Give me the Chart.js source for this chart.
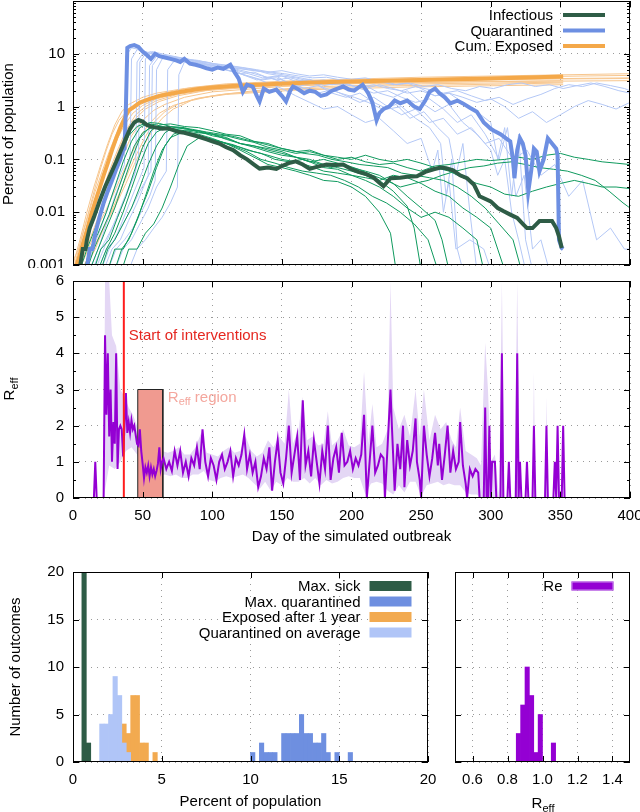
<!DOCTYPE html>
<html>
<head>
<meta charset="utf-8">
<script src="https://cdn.jsdelivr.net/npm/chart.js@4/dist/chart.umd.min.js"></script>
<style>
body { margin: 0; background: #fff; }
#fig { position: relative; width: 640px; height: 812px; font-family: 'Liberation Sans', Arial, sans-serif; font-size: 15px; color: #000; }
canvas { position: absolute; }
.lab { position: absolute; white-space: nowrap; line-height: 20px; transform: translate(-50%, -50%); }
.rot { transform: translate(-50%, -50%) rotate(-90deg); }
.lab sub { font-size: 11px; vertical-align: -4px; line-height: 0; }
</style>
</head>
<body>
<div id="fig">
  <canvas id="top" width="640" height="268" style="left:0;top:0"></canvas>
  <canvas id="reff" width="640" height="280" style="left:0;top:270px"></canvas>
  <canvas id="hist" width="440" height="262" style="left:0;top:550px"></canvas>
  <canvas id="rehist" width="200" height="262" style="left:440px;top:550px"></canvas>
  <div class="lab rot" style="left:8px;top:134px">Percent of population</div>
  <div class="lab rot" style="left:9px;top:389px">R<sub>eff</sub></div>
  <div class="lab rot" style="left:15px;top:667px">Number of outcomes</div>
  <div class="lab" style="left:543px;top:803px">R<sub>eff</sub></div>
</div>
<script>
// ---- axis ticks / names ----
const dayTicks = [0, 50, 100, 150, 200, 250, 300, 350, 400];
const topYTicks = [0.001, 0.01, 0.1, 1, 10, 100];
const reffYTicks = [0, 1, 2, 3, 4, 5, 6];
const reffYMinor = [0.5, 1.5, 2.5, 3.5, 4.5, 5.5];
const histXTicks = [0, 5, 10, 15, 20];
const histYTicks = [0, 5, 10, 15, 20];
const reXTicks = [0.6, 0.8, 1, 1.2, 1.4];
const topNames = ['Infectious', 'Quarantined', 'Cum. Exposed'];
const histNames = ['Max. sick', 'Max. quarantined', 'Exposed after 1 year', 'Quarantined on average'];
const reName = 'Re';
const dayTitle = 'Day of the simulated outbreak';
const pctTitle = 'Percent of population';

// ---- top panel: highlighted runs [day, percent] ----
const infectiousMain = [[5,0.0009],[7,0.002],[9,0.002],[10,0.003],[12,0.005],[15,0.008],[19,0.016],[23,0.03],[27,0.052],[31,0.09],[34,0.14],[38,0.25],[41,0.38],[44,0.5],[47,0.56],[50,0.52],[53,0.45],[56,0.42],[60,0.4],[64,0.38],[68,0.39],[72,0.36],[76,0.33],[80,0.32],[84,0.3],[88,0.28],[92,0.26],[96,0.24],[100,0.22],[105,0.2],[110,0.17],[115,0.15],[120,0.12],[125,0.1],[130,0.08],[134,0.067],[140,0.07],[146,0.066],[150,0.075],[155,0.085],[160,0.092],[165,0.08],[170,0.066],[175,0.072],[182,0.08],[188,0.078],[194,0.08],[200,0.065],[205,0.058],[211,0.052],[216,0.045],[220,0.036],[223,0.031],[228,0.044],[235,0.045],[240,0.047],[247,0.048],[253,0.058],[259,0.065],[264,0.07],[268,0.068],[273,0.062],[278,0.05],[283,0.044],[288,0.033],[292,0.02],[300,0.016],[305,0.012],[309,0.0105],[314,0.009],[319,0.0078],[323,0.006],[326,0.005],[330,0.005],[335,0.0068],[340,0.0068],[344,0.0068],[347,0.005],[349,0.0035],[351,0.0021]];
const quarantinedMain = [[10,0.0009],[12,0.002],[14,0.002],[16,0.004],[19,0.008],[22,0.015],[25,0.025],[28,0.04],[31,0.065],[34,0.1],[36,0.15],[37,0.16],[38,1],[39,13],[41,14],[44,14.6],[47,13.5],[50,11],[53,9.5],[56,8],[59,10],[62,9],[66,8.5],[70,8],[74,7.5],[77,7],[80,8],[84,6.5],[88,6.2],[92,5.8],[96,5.3],[100,5],[104,5.5],[108,5.2],[113,6.2],[116,4.5],[119,3.4],[122,1.9],[125,2.6],[129,2.4],[132,1.6],[134,1.25],[137,2.2],[141,1.9],[146,2.1],[150,1.6],[153,1.25],[156,2.0],[158,2.4],[162,2.1],[166,1.8],[170,2.0],[174,1.9],[178,1.6],[182,1.7],[186,2.0],[190,2.2],[194,2.4],[198,2.1],[202,2.0],[206,2.4],[208,2.6],[212,1.8],[215,1.2],[218,0.55],[220,0.75],[223,0.9],[227,1.0],[231,1.3],[235,1.15],[240,1.3],[245,1.0],[249,0.9],[253,1.3],[256,1.9],[260,2.2],[263,1.8],[267,1.5],[271,1.15],[276,1.3],[280,1.15],[285,0.95],[290,0.8],[295,0.5],[300,0.38],[303,0.34],[307,0.3],[311,0.25],[314,0.22],[316,0.1],[317,0.044],[319,0.15],[321,0.25],[323,0.2],[325,0.12],[327,0.025],[329,0.06],[331,0.16],[333,0.14],[335,0.06],[338,0.1],[341,0.25],[344,0.2],[347,0.16],[348,0.12],[349,0.003],[351,0.0021],[352,0.002]];
const exposedMain = [[2,0.0009],[4,0.0013],[6,0.002],[8,0.003],[10,0.0045],[13,0.009],[16,0.016],[19,0.028],[22,0.05],[25,0.085],[28,0.15],[31,0.25],[34,0.4],[37,0.6],[40,0.85],[44,1.0],[48,1.2],[55,1.4],[62,1.6],[70,1.75],[80,1.95],[90,2.15],[100,2.3],[120,2.5],[140,2.65],[170,2.85],[200,3.0],[250,3.2],[300,3.4],[352,3.7]];

// ---- top panel: other runs ----
const exposedRuns = [
  [[0,0.001],[5,0.003],[10,0.01],[15,0.03],[20,0.08],[25,0.2],[30,0.45],[35,0.8],[40,1.1],[50,1.5],[60,1.8],[80,2.2],[100,2.5],[150,2.9],[200,3.2],[300,3.6],[400,3.9]],
  [[3,0.001],[8,0.002],[14,0.006],[20,0.02],[26,0.06],[32,0.15],[38,0.35],[45,0.7],[52,1.0],[60,1.3],[75,1.7],[100,2.1],[150,2.6],[200,2.9],[300,3.3],[400,3.5]],
  [[5,0.001],[12,0.003],[18,0.008],[24,0.02],[30,0.05],[36,0.12],[42,0.28],[50,0.55],[58,0.85],[66,1.1],[80,1.5],[100,1.9],[150,2.4],[200,2.7],[300,3.0],[352,3.1]],
  [[0,0.0012],[4,0.002],[8,0.005],[12,0.012],[16,0.03],[20,0.07],[24,0.15],[28,0.3],[33,0.55],[40,0.9],[50,1.3],[65,1.8],[85,2.3],[110,2.7],[160,3.1],[250,3.6],[400,4.2]],
  [[8,0.001],[14,0.002],[20,0.004],[26,0.008],[32,0.016],[38,0.035],[44,0.08],[50,0.17],[57,0.35],[64,0.6],[72,0.9],[85,1.3],[100,1.6],[130,2.0],[180,2.4],[250,2.7],[352,2.9]],
  [[2,0.001],[7,0.003],[12,0.008],[17,0.02],[22,0.05],[27,0.12],[32,0.25],[37,0.45],[43,0.75],[50,1.05],[60,1.4],[80,1.9],[110,2.3],[160,2.7],[230,3.0],[320,3.3],[400,3.4]],
  [[10,0.001],[16,0.002],[22,0.005],[28,0.011],[34,0.025],[40,0.06],[46,0.13],[52,0.27],[58,0.5],[66,0.8],[75,1.1],[90,1.45],[110,1.75],[150,2.1],[220,2.45],[300,2.65],[352,2.8]],
  [[4,0.001],[9,0.0025],[14,0.006],[19,0.015],[24,0.035],[29,0.08],[34,0.18],[39,0.35],[45,0.6],[52,0.9],[62,1.25],[75,1.6],[95,2.0],[130,2.35],[190,2.7],[280,2.95],[400,3.1]],
  [[6,0.001],[11,0.002],[17,0.005],[23,0.01],[29,0.022],[35,0.05],[41,0.11],[47,0.24],[54,0.45],[62,0.75],[72,1.05],[88,1.4],[110,1.7],[160,2.05],[240,2.35],[352,2.6]],
  [[1,0.001],[6,0.003],[11,0.009],[16,0.025],[21,0.06],[26,0.14],[31,0.3],[36,0.55],[42,0.85],[50,1.15],[62,1.5],[80,1.9],[105,2.3],[150,2.7],[220,3.0],[300,3.25],[352,3.45]]
];
const infectiousRuns = [
  [[8,0.0008],[12,0.002],[18,0.004],[24,0.01],[30,0.03],[36,0.09],[42,0.22],[48,0.4],[55,0.5],[62,0.48],[70,0.42],[80,0.4],[90,0.33],[100,0.3],[110,0.26],[120,0.2],[130,0.17],[140,0.14],[150,0.12],[160,0.11],[170,0.09],[180,0.1],[190,0.085],[200,0.07],[210,0.06],[220,0.05],[230,0.035],[240,0.02],[250,0.012],[260,0.007],[265,0.003],[270,0.0008]],
  [[15,0.0008],[20,0.002],[26,0.003],[32,0.008],[38,0.02],[44,0.06],[50,0.17],[56,0.35],[62,0.45],[70,0.47],[80,0.42],[90,0.4],[100,0.35],[110,0.3],[120,0.28],[130,0.22],[140,0.2],[150,0.16],[160,0.14],[170,0.15],[180,0.12],[190,0.1],[200,0.11],[210,0.09],[220,0.08],[230,0.085],[240,0.07],[250,0.06],[260,0.075],[270,0.08],[280,0.09],[290,0.1],[300,0.095],[310,0.1],[320,0.11],[330,0.1],[340,0.12],[350,0.13],[360,0.11],[370,0.1],[380,0.09],[390,0.085],[400,0.08]],
  [[20,0.0008],[25,0.002],[30,0.003],[36,0.006],[42,0.012],[48,0.03],[54,0.08],[60,0.18],[66,0.32],[72,0.4],[80,0.38],[90,0.34],[100,0.28],[110,0.25],[120,0.2],[130,0.18],[140,0.15],[150,0.13],[160,0.11],[170,0.1],[180,0.08],[190,0.07],[200,0.06],[210,0.05],[220,0.04],[230,0.025],[240,0.013],[245,0.005],[250,0.0008]],
  [[5,0.0008],[10,0.002],[16,0.005],[22,0.013],[28,0.04],[34,0.11],[40,0.28],[46,0.42],[52,0.48],[60,0.45],[70,0.38],[80,0.33],[90,0.3],[100,0.25],[110,0.2],[120,0.15],[130,0.11],[140,0.08],[150,0.07],[160,0.06],[170,0.05],[180,0.04],[190,0.038],[200,0.03],[210,0.02],[220,0.01],[228,0.004],[232,0.0008]],
  [[25,0.0008],[30,0.002],[36,0.002],[42,0.004],[48,0.01],[54,0.025],[60,0.07],[66,0.18],[72,0.3],[80,0.36],[90,0.35],[100,0.3],[110,0.28],[120,0.24],[130,0.21],[140,0.17],[150,0.15],[160,0.13],[170,0.14],[180,0.12],[190,0.11],[200,0.1],[210,0.12],[220,0.1],[230,0.09],[240,0.1],[250,0.085],[260,0.07],[270,0.06],[280,0.045],[290,0.035],[300,0.03],[310,0.022],[320,0.02],[330,0.025],[340,0.03],[350,0.035],[360,0.04],[370,0.035],[380,0.03],[390,0.03],[400,0.028]],
  [[10,0.0008],[15,0.002],[20,0.004],[26,0.009],[32,0.025],[38,0.07],[44,0.18],[50,0.32],[56,0.4],[64,0.42],[72,0.38],[80,0.35],[90,0.32],[100,0.3],[110,0.24],[120,0.2],[130,0.18],[140,0.16],[150,0.14],[160,0.11],[170,0.09],[180,0.07],[190,0.065],[200,0.05],[210,0.045],[220,0.04],[230,0.05],[240,0.045],[250,0.035],[260,0.025],[270,0.02],[280,0.012],[290,0.008],[300,0.005],[305,0.002],[310,0.0008]],
  [[30,0.0008],[35,0.002],[40,0.003],[46,0.007],[52,0.02],[58,0.06],[64,0.15],[70,0.26],[78,0.32],[86,0.3],[95,0.26],[105,0.22],[115,0.19],[125,0.15],[135,0.13],[145,0.1],[155,0.09],[165,0.1],[175,0.085],[185,0.07],[195,0.08],[205,0.065],[215,0.05],[225,0.04],[235,0.03],[245,0.035],[255,0.04],[265,0.05],[275,0.06],[285,0.07],[295,0.075],[305,0.085],[315,0.09],[325,0.08],[335,0.07],[345,0.065],[355,0.06],[365,0.05],[375,0.04],[385,0.025],[395,0.015],[400,0.012]],
  [[12,0.0008],[18,0.002],[24,0.005],[30,0.012],[36,0.035],[42,0.1],[48,0.25],[54,0.38],[60,0.42],[68,0.4],[76,0.35],[85,0.3],[95,0.26],[105,0.22],[115,0.18],[125,0.14],[135,0.1],[145,0.085],[155,0.07],[165,0.06],[175,0.055],[185,0.05],[195,0.04],[205,0.03],[215,0.02],[225,0.015],[235,0.01],[245,0.006],[255,0.003],[262,0.0008]],
  [[18,0.0008],[24,0.002],[30,0.004],[36,0.01],[42,0.028],[48,0.08],[54,0.2],[60,0.33],[68,0.42],[76,0.4],[86,0.37],[96,0.33],[106,0.3],[116,0.27],[126,0.23],[136,0.2],[146,0.17],[156,0.15],[166,0.13],[176,0.12],[186,0.1],[196,0.09],[206,0.08],[216,0.075],[226,0.07],[236,0.055],[246,0.05],[256,0.045],[266,0.04],[276,0.03],[286,0.02],[296,0.012],[306,0.006],[316,0.003],[322,0.0008]],
  [[35,0.0008],[40,0.002],[46,0.002],[52,0.004],[58,0.006],[64,0.012],[70,0.03],[76,0.08],[82,0.18],[90,0.25],[100,0.24],[110,0.2],[120,0.17],[130,0.14],[140,0.12],[150,0.1],[160,0.09],[170,0.075],[180,0.06],[190,0.055],[200,0.05],[210,0.04],[220,0.03],[230,0.02],[240,0.012],[250,0.008],[260,0.01],[270,0.008],[280,0.005],[290,0.003],[295,0.0008]]
];
const quarantinedRuns = [
  [[12,0.0008],[18,0.002],[24,0.006],[30,0.02],[36,0.05],[41,0.1],[42,8],[46,12],[52,11],[60,9.5],[70,8],[80,7],[90,6.5],[100,6],[110,5],[120,4.2],[130,4.5],[140,3.5],[150,3.8],[160,3],[170,3.3],[180,2.5],[190,2.8],[200,2.2],[210,2.5],[220,1.8],[230,1.5],[240,2.0],[250,1.2],[260,0.8],[270,1.1],[280,0.5],[290,0.3],[300,0.15],[305,0.05],[310,0.1],[315,0.01],[320,0.003],[325,0.0008]],
  [[16,0.0008],[22,0.002],[28,0.005],[34,0.012],[40,0.03],[45,0.06],[46,7],[50,10],[56,11],[64,9],[72,8.5],[82,7.5],[92,6],[102,5.5],[112,5.8],[122,4],[132,3.2],[142,3.5],[152,2.8],[162,2.4],[172,2.8],[182,2.2],[192,1.8],[202,1.5],[212,1.2],[222,0.9],[232,1.1],[242,0.6],[252,0.8],[262,0.4],[270,0.25],[275,0.05],[280,0.2],[285,0.01],[290,0.0008]],
  [[20,0.0008],[26,0.002],[32,0.004],[38,0.01],[44,0.025],[51,0.07],[52,8],[57,11],[64,10],[72,9],[82,8],[92,7],[102,6.5],[112,6],[122,5.5],[132,5],[142,4.5],[152,4.2],[162,3.8],[172,3.5],[182,3.6],[192,3.2],[202,3],[212,2.8],[222,3.2],[232,2.6],[242,2.8],[252,2.4],[262,2.6],[272,2.2],[282,2.0],[292,2.4],[302,2.2],[312,2.6],[322,2.8],[332,2.4],[342,2.6],[352,2.2],[362,2.5],[372,2.8],[382,2.4],[392,2.0],[400,1.8]],
  [[22,0.0008],[28,0.002],[34,0.003],[40,0.007],[46,0.015],[54,0.05],[55,6],[60,9],[66,9.5],[76,8],[86,7],[96,6],[106,5.2],[116,4.5],[126,3.8],[136,3.2],[146,3.5],[156,2.8],[166,2.2],[176,1.8],[186,2.1],[196,1.6],[206,1.2],[216,1.5],[226,1.0],[236,0.7],[246,0.9],[256,0.5],[266,0.6],[276,0.3],[286,0.4],[296,0.2],[306,0.25],[316,0.1],[326,0.15],[336,0.05],[346,0.08],[356,0.02],[366,0.04],[376,0.003],[386,0.005],[396,0.002],[400,0.002]],
  [[10,0.0008],[14,0.002],[20,0.005],[26,0.015],[32,0.04],[37,0.08],[38,9],[42,13],[48,12],[56,10],[66,9],[76,8.5],[86,7.5],[96,7],[106,6],[116,5],[126,4.2],[136,3.5],[146,3.8],[156,2.6],[166,2.2],[176,2.5],[186,1.8],[196,1.5],[206,1.8],[216,1.2],[226,0.9],[236,1.0],[246,0.6],[256,0.4],[264,0.2],[268,0.02],[272,0.1],[276,0.002],[280,0.0008]],
  [[25,0.0008],[31,0.002],[37,0.003],[43,0.005],[49,0.01],[55,0.02],[59,0.04],[60,5],[64,8],[70,9],[80,8],[90,7.5],[100,6.5],[110,6],[120,5.5],[130,5],[140,4.2],[150,3.8],[160,3.5],[170,3],[180,3.2],[190,2.8],[200,2.5],[210,2.2],[220,2.6],[230,2.2],[240,1.8],[250,2.0],[260,1.6],[270,1.8],[280,1.5],[290,1.2],[300,1.4],[310,1.0],[320,0.6],[330,0.8],[340,0.5],[350,0.7],[360,1.0],[370,1.3],[380,1.1],[390,0.9],[400,1.2]],
  [[30,0.0008],[36,0.002],[42,0.003],[48,0.006],[54,0.012],[60,0.03],[67,0.06],[68,5],[72,7],[80,8],[90,7],[100,6],[110,5.5],[120,5.2],[130,4.8],[140,4.5],[150,4.8],[160,4.2],[170,3.8],[180,4.0],[190,3.6],[200,3.3],[210,3.5],[220,3.0],[230,2.6],[240,2.8],[250,2.2],[260,1.6],[270,1.8],[280,1.2],[290,0.8],[300,0.5],[305,0.1],[310,0.4],[315,0.02],[320,0.3],[325,0.003],[330,0.0008]],
  [[40,0.0008],[46,0.002],[52,0.003],[58,0.005],[64,0.008],[70,0.015],[75,0.03],[76,4],[80,7],[88,7.5],[96,6.5],[106,6],[116,5.5],[126,5],[136,4.6],[146,4.2],[156,3.8],[166,3.4],[176,3.0],[186,2.6],[196,2.8],[206,2.2],[216,1.8],[226,2.0],[236,1.5],[246,1.2],[256,1.4],[266,0.9],[276,0.5],[286,0.7],[296,0.3],[306,0.1],[312,0.4],[318,0.02],[324,0.05],[330,0.002],[336,0.003],[342,0.0008]],
  [[14,0.0008],[20,0.002],[26,0.004],[32,0.008],[38,0.02],[44,0.05],[47,0.1],[48,7],[52,10],[58,10.5],[66,9],[76,8],[86,7],[96,6.2],[106,5.8],[116,5.2],[126,4.5],[136,3.8],[146,3.2],[156,3.5],[166,3.0],[176,2.6],[186,3.0],[196,2.6],[206,2.3],[216,2.6],[226,2.2],[236,2.0],[246,2.4],[256,2.1],[266,1.8],[276,2.0],[286,1.6],[296,1.3],[306,1.5],[316,1.1],[326,1.4],[336,1.7],[346,2.2],[356,2.6],[366,2.4],[376,2.8],[386,2.5],[396,2.2],[400,2.0]],
  [[18,0.0008],[24,0.002],[30,0.003],[36,0.006],[42,0.012],[48,0.025],[56,0.06],[57,6],[62,9],[70,8.5],[80,7.5],[90,6.8],[100,6],[110,5],[120,4.2],[130,3.5],[140,2.8],[150,2.2],[160,1.6],[170,1.2],[180,0.9],[190,1.0],[200,0.7],[210,0.5],[220,0.6],[230,0.35],[240,0.2],[250,0.25],[258,0.06],[262,0.15],[266,0.01],[270,0.04],[275,0.002],[285,0.003],[295,0.002],[300,0.0008]]
];

// ---- middle panel: R_eff [day, value] ----
const reffMain = [[15,0],[16,1],[17,0],[22,0],[23,4.5],[24,2.3],[25,4.0],[26,1.7],[27,3.0],[28,1.0],[29,2.1],[30,1.5],[31,4.0],[32,0.8],[33,1.9],[34,2.0],[35,1.9],[36,1.15],[37,2.0],[38,2.9],[39,1.8],[40,2.1],[41,1.8],[42,2.15],[43,1.9],[44,2.0],[45,1.75],[46,1.5],[47,1.45],[48,1.9],[49,1.3],[50,0.95],[51,0.55],[52,0.85],[53,0.7],[54,0.9],[55,0.6],[56,0.85],[57,0.65],[58,0.8],[59,0.6],[60,0.75],[61,0.95],[62,1.4],[63,0.8],[64,1.0],
  [65,1.1],[67,0.8],[69,1.0],[71,0.75],[73,1.3],[75,0.9],[77,1.3],[79,0.7],[81,1.0],[83,0.6],[85,1.1],[87,0.9],[89,1.4],[91,0.8],[93,1.9],[95,1.0],[97,0.6],[99,1.1],[101,0.9],[103,0.5],[105,1.0],[107,1.2],[109,0.8],[111,1.0],[113,1.3],[115,0.6],[117,1.1],[119,0.9],[121,1.2],[123,1.75],[125,0.8],[127,1.2],[129,0.7],[131,1.0],[133,0.3],[135,0.6],[137,1.1],[139,0.8],[141,1.4],[143,0.2],[145,1.0],[147,1.6],[149,0.7],[151,0.4],[153,1.1],[155,2.0],[157,0.7],[159,1.2],[161,1.7],[163,0.5],[165,2.7],[167,0.9],[169,1.3],[171,0.6],[173,1.6],[175,1.0],[177,0.4],[179,1.3],[181,0.8],[183,2.0],[185,0.5],[187,1.1],[189,1.4],[191,0.7],[193,1.8],[195,0.9],[197,1.0],[199,1.3],[201,0.8],[203,1.1],[205,0.9],[207,1.2],[209,2.3],[211,0],[213,1.0],[215,2.0],[217,0.7],[219,0.9],[221,1.2],[223,1.1],[224,0],[226,1.5],[228,3.0],[229,2.0],[231,0.2],[233,1.5],[235,0.8],[237,2.0],[238,0.3],[240,1.6],[242,0.9],[244,1.3],[246,2.2],[247,1.0],[249,0.5],[250,0],[252,2.0],[254,1.2],[256,0.6],[258,1.1],[260,1.8],[262,0.9],[263,1.5],[265,0.5],[267,1.2],[269,2.0],[271,0.7],[273,1.3],[275,0.8],[277,1.0],[278,2.1],[280,0.9],[282,0.4],[283,0],[285,0.8],[287,0.6],[289,0.8],[291,0.7],[292,0],[295,0],[296,2.5],[297,0],[298,0],[299,2.0],[300,0],[301,1],[303,1],[304,0],[307,0],[308,4],[309,0],[312,0],[313,1],[314,0],[318,0],[319,4],[320,0],[321,1],[322,0],[325,0],[326,1],[327,0],[330,0],[331,2],[332,0],[339,0],[340,2],[341,0],[345,0],[346,1],[347,0],[347.5,0],[348,2],[349,0],[351,0],[352,2],[353,0]];
const reffUpper = [[22,0],[23,6],[26,6],[28,4.5],[31,4.2],[34,3.0],[37,2.8],[40,2.5],[43,2.3],[46,2.0],[49,1.7],[52,1.1],[56,1.0],[60,1.1],[64,1.3],[68,1.25],[72,1.3],[76,1.4],[80,1.2],[84,1.2],[88,1.4],[92,1.8],[96,1.25],[100,1.2],[104,1.15],[108,1.3],[112,1.4],[116,1.25],[120,1.3],[124,1.7],[128,1.3],[132,1.15],[136,1.25],[140,1.6],[144,1.4],[148,1.7],[152,1.5],[155,3.0],[158,1.5],[162,1.9],[165,2.8],[168,1.6],[172,1.7],[176,1.45],[180,1.5],[183,2.4],[186,1.45],[190,1.6],[194,1.9],[198,1.45],[202,1.4],[206,1.5],[209,3.5],[212,1.5],[215,2.6],[218,1.4],[222,1.5],[226,1.9],[228,6],[230,2.5],[234,1.9],[238,2.3],[242,1.7],[246,3.0],[249,1.7],[252,3.0],[256,1.6],[260,2.3],[264,1.9],[268,2.1],[272,1.6],[275,1.4],[278,2.5],[282,1.3],[286,1.2],[290,1.1],[293,0.9],[296,4.3],[298,3.0],[300,1.0],[303,1.2],[306,0],[308,6],[310,0],[317,0],[319,6],[321,0],[330,0],[331,3.5],[332,0],[339,0],[340,2.8],[341,0],[352,0]];
const reffLower = [[22,0],[26,0.9],[30,0.8],[34,1.0],[38,1.3],[42,1.4],[46,1.2],[50,0.7],[54,0.5],[58,0.55],[62,0.6],[66,0.65],[70,0.6],[74,0.65],[78,0.55],[82,0.55],[86,0.65],[90,0.65],[94,0.75],[98,0.5],[102,0.45],[106,0.55],[110,0.6],[114,0.55],[118,0.6],[122,0.65],[126,0.55],[130,0.4],[134,0.25],[138,0.45],[142,0.2],[146,0.45],[150,0.35],[154,0.55],[158,0.45],[162,0.45],[166,0.55],[170,0.4],[174,0.55],[178,0.35],[182,0.5],[186,0.4],[190,0.45],[194,0.55],[198,0.6],[202,0.55],[206,0.55],[210,0.1],[214,0.4],[218,0.45],[222,0.4],[226,0.2],[230,0.1],[234,0.35],[238,0.15],[242,0.45],[246,0.45],[250,0.05],[254,0.35],[258,0.4],[262,0.45],[266,0.35],[270,0.4],[274,0.35],[278,0.35],[282,0.15],[286,0.1],[290,0.1],[293,0],[352,0]];
const interventionDay = 36.5;
const reffRegionDays = [46.5, 64.5];
const reffRegionTop = 3;

// ---- bottom panels: histograms (bin centre, count) ----
const maxSickBins = [0.625, 0.875];
const maxSickCounts = [38, 2];
const maxQuarBins = [10.125, 10.625, 10.875, 11.125, 11.375, 11.875, 12.125, 12.375, 12.625, 12.875, 13.125, 13.375, 13.625, 13.875, 14.125, 14.375, 14.875, 15.625];
const maxQuarCounts = [1, 2, 1, 1, 1, 3, 3, 3, 3, 5, 3, 3, 2, 2, 3, 1, 1, 1];
const exposedBins = [2.875, 3.125, 3.375, 3.625, 3.875, 4.125, 4.625];
const exposedCounts = [4, 3, 7, 7, 2, 2, 1];
const avgQuarBins = [1.625, 1.875, 2.125, 2.375, 2.625, 2.875, 3.125];
const avgQuarCounts = [4, 4, 5, 9, 7, 2, 1];
const reBins = [0.8625, 0.8875, 0.9125, 0.9375, 0.9625, 0.9875, 1.0625];
const reCounts = [3, 6, 10, 7, 1, 5, 2];

// colours
const cInf = '#2e5c46', cInfThin = '#0f9a5e';
const cQuar = '#6d8fe2', cQuarThin = '#b4c8f6';
const cExp = '#f4a849', cExpThin = '#f7c68e';
const cRe = '#9400d3', cBand = '#e4d7f5';

const FONT = "'Liberation Sans', Arial, sans-serif";
Chart.defaults.font.family = FONT;
Chart.defaults.font.size = 15;
Chart.defaults.color = '#000';
Chart.defaults.animation = false;
Chart.defaults.responsive = false;
Chart.defaults.plugins.legend.display = false;
Chart.defaults.plugins.tooltip.enabled = false;

const pts = pairs => pairs.map(([x, y]) => ({ x, y }));
const bins = (xs, ys) => xs.map((x, i) => ({ x, y: ys[i] }));
const grid = { color: '#9a9a9a', lineWidth: 1, drawTicks: false };
const border = { display: false, dash: [1, 5] };
const fixTicks = list => s => { s.ticks = list.map(v => ({ value: v })); };
// fixed axis size, and no extra room for overhanging tick labels
const fitW = w => s => { s.width = w; s.paddingTop = 0; s.paddingBottom = 0; };
const fitH = h => s => { s.height = h; s.paddingLeft = 0; s.paddingRight = 0; };

// gnuplot-like frame with inward ticks
const framePlugin = {
  id: 'frame',
  afterDatasetsDraw(chart, args, o) {
    const { ctx, chartArea: a } = chart;
    const xs = chart.scales.x, ys = chart.scales.y;
    ctx.save();
    ctx.strokeStyle = '#000';
    ctx.lineWidth = 1;
    const seg = (x1, y1, x2, y2) => { ctx.beginPath(); ctx.moveTo(x1, y1); ctx.lineTo(x2, y2); ctx.stroke(); };
    const tx = (v, n) => { const p = Math.round(xs.getPixelForValue(v)) + 0.5; seg(p, a.bottom, p, a.bottom - n); seg(p, a.top, p, a.top + n); };
    const ty = (v, n) => { const p = Math.round(ys.getPixelForValue(v)) + 0.5; seg(a.left, p, a.left + n, p); seg(a.right, p, a.right - n, p); };
    (o.x || []).forEach(v => tx(v, 6));
    (o.y || []).forEach(v => ty(v, 6));
    (o.yMinor || []).forEach(v => ty(v, 3));
    ctx.strokeRect(Math.round(a.left) + 0.5, Math.round(a.top) + 0.5, Math.round(a.right - a.left) - 1, Math.round(a.bottom - a.top) - 1);
    ctx.restore();
  }
};

// key in the top right corner: right-aligned text, sample to the right
const keyPlugin = {
  id: 'key',
  afterDatasetsDraw(chart, args, o) {
    if (!o.items) return;
    const { ctx, chartArea: a } = chart;
    ctx.save();
    ctx.font = '15px ' + FONT;
    ctx.textAlign = 'right';
    ctx.textBaseline = 'middle';
    o.items.forEach((it, i) => {
      const y = a.top + o.top + i * o.step;
      const bx = a.right - o.right - o.width;
      ctx.fillStyle = it.color;
      ctx.fillRect(bx, y - it.h / 2, o.width, it.h);
      if (it.stroke) { ctx.strokeStyle = it.stroke; ctx.lineWidth = 1; ctx.strokeRect(bx + 0.5, y - it.h / 2 + 0.5, o.width - 1, it.h - 1); }
      ctx.fillStyle = '#000';
      ctx.fillText(it.text, bx - o.gap, y + 1);
    });
    ctx.restore();
  }
};

// text labels inside the R_eff panel
const notePlugin = {
  id: 'notes',
  afterDatasetsDraw(chart, args, o) {
    if (!o.show) return;
    const { ctx } = chart;
    const xs = chart.scales.x, ys = chart.scales.y;
    ctx.save();
    ctx.textAlign = 'left';
    ctx.textBaseline = 'middle';
    ctx.font = '15px ' + FONT;
    ctx.fillStyle = '#e52720';
    ctx.fillText('Start of interventions', xs.getPixelForValue(interventionDay) + 5, ys.getPixelForValue(4.48));
    let x = xs.getPixelForValue(reffRegionDays[1]) + 5;
    const y = ys.getPixelForValue(2.77);
    ctx.fillStyle = '#f4a79e';
    ctx.fillText('R', x, y);
    x += ctx.measureText('R').width;
    ctx.font = '11px ' + FONT;
    ctx.fillText('eff', x, y + 4);
    x += ctx.measureText('eff').width;
    ctx.font = '15px ' + FONT;
    ctx.fillText(' region', x, y);
    ctx.restore();
  }
};

// ---------- top panel ----------
const logMinor = [];
[0.001, 0.01, 0.1, 1, 10].forEach(d => { for (let k = 2; k < 10; k++) logMinor.push(k * d); });
const lineSet = (pairs, color, width, order) => ({ data: pts(pairs), borderColor: color, borderWidth: width, pointRadius: 0, tension: 0, order, clip: 0 });
const topSets = [
  lineSet(infectiousMain, cInf, 4, 0),
  lineSet(quarantinedMain, cQuar, 4, 1),
  lineSet(exposedMain, cExp, 4, 2),
  ...infectiousRuns.map(r => lineSet(r, cInfThin, 1, 3)),
  ...quarantinedRuns.map(r => lineSet(r, cQuarThin, 1, 4)),
  ...exposedRuns.map(r => lineSet(r, cExpThin, 1, 5))
];
new Chart(document.getElementById('top'), {
  type: 'line',
  data: { datasets: topSets },
  options: {
    layout: { padding: { top: 1, right: 10, bottom: 3, left: 0 } },
    scales: {
      x: { type: 'linear', min: 0, max: 400, afterBuildTicks: fixTicks(dayTicks), ticks: { display: false }, grid, border, afterFit: fitH(0) },
      y: { type: 'logarithmic', min: 0.001, max: 100, afterBuildTicks: fixTicks(topYTicks),
           ticks: { padding: 8, autoSkip: false, callback: v => (v >= 100 ? '' : String(v)) },
           grid, border, afterFit: fitW(73) }
    },
    plugins: {
      frame: { x: dayTicks, y: topYTicks, yMinor: logMinor },
      key: { top: 14, step: 15.5, right: 25, width: 42, gap: 10,
             items: [{ text: topNames[0], color: cInf, h: 4 }, { text: topNames[1], color: cQuar, h: 4 }, { text: topNames[2], color: cExp, h: 4 }] }
    }
  },
  plugins: [framePlugin, keyPlugin]
});

// ---------- R_eff panel ----------
new Chart(document.getElementById('reff'), {
  type: 'line',
  data: { datasets: [
    { data: pts([[interventionDay, 0], [interventionDay, 6]]), borderColor: '#ff1d1d', borderWidth: 2, pointRadius: 0, order: 0, clip: 0 },
    { data: pts(reffMain), borderColor: cRe, borderWidth: 2, pointRadius: 0, tension: 0, order: 1, clip: 0 },
    { data: pts([[reffRegionDays[0], 0], [reffRegionDays[0], reffRegionTop], [reffRegionDays[1], reffRegionTop], [reffRegionDays[1], 0]]),
      borderColor: '#222', borderWidth: 1, backgroundColor: '#f09a90', fill: 'origin', pointRadius: 0, order: 2, clip: 0 },
    { data: pts(reffUpper), borderWidth: 0, borderColor: cBand, backgroundColor: cBand, fill: '+1', pointRadius: 0, order: 3, clip: 0 },
    { data: pts(reffLower), borderWidth: 0, borderColor: cBand, pointRadius: 0, fill: false, order: 4, clip: 0 }
  ] },
  options: {
    layout: { padding: { top: 11, right: 10, bottom: 0, left: 0 } },
    scales: {
      x: { type: 'linear', min: 0, max: 400, afterBuildTicks: fixTicks(dayTicks), ticks: { padding: 9, maxRotation: 0, autoSkip: false },
           grid, border, title: { display: true, text: dayTitle, font: { size: 15 }, padding: { top: 0, bottom: 4 } },
           afterFit: fitH(52) },
      y: { min: 0, max: 6, afterBuildTicks: fixTicks(reffYTicks), ticks: { padding: 9 }, grid, border, afterFit: fitW(73) }
    },
    plugins: { frame: { x: dayTicks, y: reffYTicks, yMinor: reffYMinor }, notes: { show: true } }
  },
  plugins: [framePlugin, notePlugin]
});

// ---------- histogram of outcomes ----------
const barSet = (xs, ys, color, order) => ({ data: bins(xs, ys), backgroundColor: color, borderWidth: 0, order, clip: 0,
  grouped: false, barPercentage: 1, categoryPercentage: 1 });
new Chart(document.getElementById('hist'), {
  type: 'bar',
  data: { datasets: [
    barSet(avgQuarBins, avgQuarCounts, '#b0c5f7', 0),
    barSet(exposedBins, exposedCounts, '#f2aa50', 1),
    barSet(maxQuarBins, maxQuarCounts, '#6e8fe0', 2),
    barSet(maxSickBins, maxSickCounts, cInf, 3)
  ] },
  options: {
    layout: { padding: { top: 22, right: 12, bottom: 0, left: 0 } },
    scales: {
      x: { type: 'linear', min: 0, max: 20, offset: false, afterBuildTicks: fixTicks(histXTicks), ticks: { padding: 9, maxRotation: 0, autoSkip: false },
           grid: { ...grid, offset: false }, border, title: { display: true, text: pctTitle, font: { size: 15 }, padding: { top: 0, bottom: 1 } },
           afterFit: fitH(50) },
      y: { min: 0, max: 20, afterBuildTicks: fixTicks(histYTicks), ticks: { padding: 9 }, grid, border, afterFit: fitW(73) }
    },
    plugins: {
      frame: { x: histXTicks, y: histYTicks },
      key: { top: 14, step: 15.5, right: 16.5, width: 42, gap: 9,
             items: [{ text: histNames[0], color: cInf, h: 10 }, { text: histNames[1], color: '#6e8fe0', h: 10 },
                     { text: histNames[2], color: '#f2aa50', h: 10 }, { text: histNames[3], color: '#b0c5f7', h: 10 }] }
    }
  },
  plugins: [framePlugin, keyPlugin]
});

// ---------- histogram of R_eff ----------
new Chart(document.getElementById('rehist'), {
  type: 'bar',
  data: { datasets: [ barSet(reBins, reCounts, cRe, 0) ] },
  options: {
    layout: { padding: { top: 22, right: 10, bottom: 0, left: 0 } },
    scales: {
      x: { type: 'linear', min: 0.5, max: 1.5, offset: false, afterBuildTicks: fixTicks(reXTicks), ticks: { padding: 9, maxRotation: 0, autoSkip: false },
           grid: { ...grid, offset: false }, border, afterFit: fitH(50) },
      y: { min: 0, max: 20, afterBuildTicks: fixTicks(histYTicks), ticks: { display: false }, grid, border, afterFit: fitW(15) }
    },
    plugins: {
      frame: { x: reXTicks, y: histYTicks },
      key: { top: 14, step: 15.5, right: 16.5, width: 42, gap: 9, items: [{ text: reName, color: cRe, h: 9, stroke: '#c98cec' }] }
    }
  },
  plugins: [framePlugin, keyPlugin]
});
</script>
</body>
</html>
